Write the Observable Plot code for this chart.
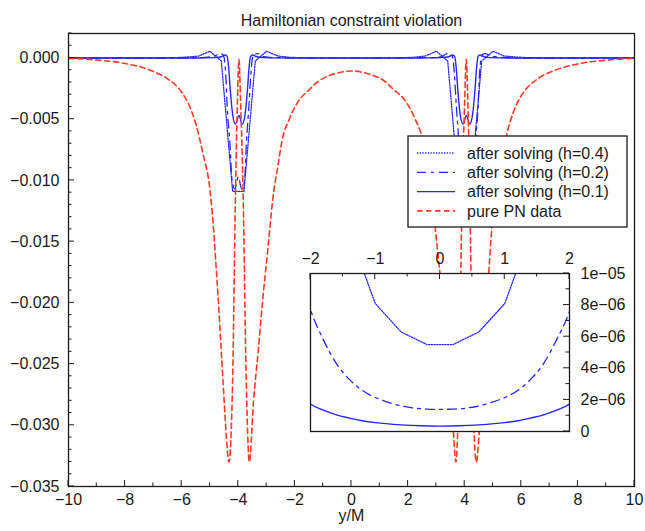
<!DOCTYPE html>
<html><head><meta charset="utf-8">
<script src="https://cdn.jsdelivr.net/npm/d3@7"></script>
<script src="https://cdn.jsdelivr.net/npm/@observablehq/plot@0.6"></script>
<style>
body{margin:0;background:#fff;}
#wrap{position:relative;width:645px;height:531px;overflow:hidden;background:#fff;}
</style>
</head><body><div id="wrap"></div>
<script>
// ---------- data ----------
const title = "Hamiltonian constraint violation";
const xLabel = "y/M";
const seriesNames = ["after solving (h=0.4)", "after solving (h=0.2)", "after solving (h=0.1)", "pure PN data"];

// h = 0.4 (dotted)
const h04X = [-10,-7,-6.2,-5.8,-5.4,-5,-4.6,-4.2,-3.8,-3.4,-3,-2.6,-2.2,-1.8,-1.4,-1,-0.6,-0.2,0.2,0.6,1,1.4,1.8,2.2,2.6,3,3.4,3.8,4.2,4.6,5,5.4,5.8,6.2,7,10];
const h04Y = [0,0.00001,0.00003,0.00008,0.00016,0.00055,-0.00025,-0.0109,-0.0109,-0.00025,0.00055,0.00016,0.00006,0.000022,0.0000126,0.0000081,0.0000063,0.0000055,0.0000055,0.0000063,0.0000081,0.0000126,0.000022,0.00006,0.00016,0.00055,-0.00025,-0.0109,-0.0109,-0.00025,0.00055,0.00016,0.00008,0.00003,0.00001,0];

// h = 0.2 (dash-dot)
const h02X = [-10,-6,-5.4,-5.0,-4.8,-4.65,-4.55,-4.5,-4.44,-4.39,-4.3,-4.22,-4.12,-4.0,-3.88,-3.78,-3.71,-3.63,-3.56,-3.5,-3.42,-3.3,-3.1,-2.8,-2.6,-2.4,-2.2,-2.0,-1.8,-1.6,-1.4,-1.2,-1.0,-0.8,-0.6,-0.4,-0.2,0,0.2,0.4,0.6,0.8,1.0,1.2,1.4,1.6,1.8,2.0,2.2,2.4,2.6,2.88,3.18,3.38,3.5,3.58,3.64,3.71,3.79,3.86,3.96,4.08,4.2,4.3,4.38,4.47,4.52,4.58,4.63,4.73,4.88,5.08,5.48,6,10];
const h02Y = [0,0,0.00003,0.0001,0.0002,0.00035,0.0003,0,-0.0015,-0.0041,-0.0068,-0.0100,-0.0107,-0.0097,-0.0107,-0.0100,-0.0068,-0.0041,-0.0015,0,0.0003,0.00035,0.0001,0.00003,0.000022,0.000015,0.0000105,0.0000077,0.0000058,0.0000043,0.0000033,0.0000026,0.00000215,0.00000185,0.00000162,0.00000148,0.00000142,0.0000014,0.00000142,0.00000148,0.00000162,0.00000185,0.00000215,0.0000026,0.0000033,0.0000043,0.0000058,0.0000076,0.0000105,0.000015,0.000022,0.00003,0.0001,0.00035,0.0003,0,-0.0015,-0.0041,-0.0068,-0.0100,-0.0107,-0.0097,-0.0107,-0.0100,-0.0068,-0.0041,-0.0015,0,0.0003,0.00035,0.0002,0.0001,0.00003,0,0];

// h = 0.1 (solid)
const h01X = [-10,-5.5,-4.8,-4.6,-4.45,-4.39,-4.34,-4.28,-4.2,-4.1,-3.98,-3.86,-3.76,-3.68,-3.62,-3.57,-3.5,-3.35,-3.1,-2.8,-2.5,-2.2,-2.0,-1.8,-1.6,-1.4,-1.2,-1.0,-0.6,-0.3,0,0.3,0.6,1.0,1.2,1.4,1.6,1.8,2.0,2.2,2.5,2.88,3.18,3.43,3.58,3.65,3.70,3.76,3.84,3.94,4.06,4.18,4.28,4.36,4.42,4.47,4.53,4.68,4.88,5.58,10];
const h01Y = [0,0,0.00003,0.0001,0.00025,0.0001,-0.0008,-0.0027,-0.0046,-0.0054,-0.0047,-0.0054,-0.0046,-0.0027,-0.0008,0.0001,0.00025,0.0001,0.00003,0.000012,0.000005,0.0000026,0.00000174,0.00000135,0.00000105,0.00000085,0.00000068,0.00000056,0.00000042,0.00000036,0.00000034,0.00000036,0.00000042,0.00000056,0.00000068,0.00000085,0.00000105,0.00000135,0.00000174,0.0000026,0.000005,0.000012,0.00003,0.0001,0.00025,0.0001,-0.0008,-0.0027,-0.0046,-0.0054,-0.0047,-0.0054,-0.0046,-0.0027,-0.0008,0.0001,0.00025,0.0001,0.00003,0,0];

// pure PN data (red dashed)
const pnX = [-10,-9,-8,-7,-6.5,-6,-5.75,-5.5,-5.25,-5,-4.9,-4.8,-4.7,-4.6,-4.5,-4.42,-4.33,-4.2,-4.1,-4.03,-3.975,-3.92,-3.83,-3.72,-3.61,-3.46,-3.3,-3.14,-2.95,-2.79,-2.6,-2.44,-2.2,-1.87,-1.5,-1.17,-0.6,0,
  0.6,1.17,1.5,1.9,2.25,2.5,2.66,2.86,3.03,3.22,3.38,3.54,3.69,3.80,3.91,4.00,4.055,4.11,4.18,4.28,4.41,4.50,4.58,4.68,4.78,4.88,4.98,5.08,5.33,5.58,5.83,6.08,6.58,7.08,8.08,9.05,10];
const pnY = [-0.00003,-0.00017,-0.00045,-0.0011,-0.0017,-0.0028,-0.0038,-0.0054,-0.0078,-0.0108,-0.0132,-0.0165,-0.0200,-0.0240,-0.0280,-0.0310,-0.0330,-0.0263,-0.0111,-0.0035,-0.0001,-0.0035,-0.0111,-0.0263,-0.0330,-0.0280,-0.0240,-0.0198,-0.0155,-0.0117,-0.0088,-0.0066,-0.0050,-0.0035,-0.0026,-0.0019,-0.0013,-0.00106,
  -0.0013,-0.0019,-0.0026,-0.0035,-0.0050,-0.0066,-0.0088,-0.0117,-0.0155,-0.0198,-0.0240,-0.0280,-0.0330,-0.0263,-0.0111,-0.0035,-0.0001,-0.0035,-0.0111,-0.0263,-0.0330,-0.0310,-0.0280,-0.0240,-0.0200,-0.0165,-0.0132,-0.0108,-0.0078,-0.0054,-0.0038,-0.0028,-0.0017,-0.0011,-0.00045,-0.00017,-0.00003];

// tick values
const xTicksMain = [-10,-8,-6,-4,-2,0,2,4,6,8,10];
const xMinorMain = d3.range(-10, 10.001, 1);
const yTicksMain = [0,-0.005,-0.01,-0.015,-0.02,-0.025,-0.03,-0.035];
const yMinorMain = d3.range(-35, 2.001, 1).map(v => v / 1000);
const xTicksInset = [-2,-1,0,1,2];
const xMinorInset = d3.range(-2, 2.001, 0.5);
const yTicksInset = [0,2e-6,4e-6,6e-6,8e-6,1e-5];
const yMinorInset = d3.range(0, 10.001, 1).map(v => v * 1e-6);

// ---------- styles ----------
const BLUE = "#2626ff";
const RED = "#ff3a24";
const INK = "#1a1a1a";
const FONT = "'Liberation Sans', Arial, Helvetica, sans-serif";
const styles = [
  {stroke: BLUE, strokeWidth: 1.3, strokeDasharray: "1.3,1.4", curve: "linear"},
  {stroke: BLUE, strokeWidth: 1.3, strokeDasharray: "9,5,3,5", curve: "monotone-x"},
  {stroke: BLUE, strokeWidth: 1.4, strokeDasharray: null, curve: "monotone-x"},
  {stroke: RED, strokeWidth: 1.6, strokeDasharray: "5.5,3.5", curve: "monotone-x"}
];
const rows = (xs, ys) => xs.map((x, i) => ({x, y: ys[i]}));
const seriesData = [rows(h04X, h04Y), rows(h02X, h02Y), rows(h01X, h01Y), rows(pnX, pnY)];

function lineMarks(which) {
  return which.map(i => Plot.line(seriesData[i], {x: "x", y: "y", clip: true, ...styles[i]}));
}

// ---------- main plot ----------
const main = Plot.plot({
  width: 645, height: 531,
  marginLeft: 68, marginRight: 11, marginTop: 33, marginBottom: 45,
  x: {domain: [-10, 10]},
  y: {domain: [-0.035, 0.002]},
  style: {fontFamily: FONT, fontSize: "16px", color: INK, background: "white"},
  marks: [
    ...lineMarks([0, 1, 2, 3]),
    Plot.frame({stroke: INK, strokeWidth: 1.3}),
    Plot.axisX({ticks: xTicksMain, tickSize: 0, tickPadding: 7, tickFormat: d3.format("d"), label: null, fontSize: 16}),
    Plot.axisY({ticks: yTicksMain, tickSize: 0, tickPadding: 9, tickFormat: d3.format(".3f"), label: null, fontSize: 16}),
    Plot.text([xLabel], {text: d => d, frameAnchor: "bottom", dy: 34, fontSize: 16}),
    Plot.text([title], {text: d => d, frameAnchor: "top", dy: -19, fontSize: 16})
  ]
});
main.style.position = "absolute"; main.style.left = "0px"; main.style.top = "0px";
document.getElementById("wrap").appendChild(main);

// inward ticks for the main plot from its own scales, plus the legend box
{
  const sx = main.scale("x"), sy = main.scale("y");
  const left = sx.range[0], bottom = sy.range[0];
  const g = d3.select(main).append("g").attr("stroke", INK).attr("stroke-width", 1);
  xMinorMain.forEach(v => {
    const len = xTicksMain.includes(v) ? 6 : 3.5, px = sx.apply(v);
    g.append("line").attr("x1", px).attr("x2", px).attr("y1", bottom).attr("y2", bottom - len);
  });
  yMinorMain.forEach(v => {
    const major = yTicksMain.some(t => Math.abs(t - v) < 1e-9);
    const len = major ? 6 : 3.5, py = sy.apply(v);
    g.append("line").attr("x1", left).attr("x2", left + len).attr("y1", py).attr("y2", py);
  });

  const L = d3.select(main).append("g")
    .attr("font-family", FONT).attr("font-size", 16).attr("fill", INK).attr("text-anchor", "start");
  L.append("rect").attr("x", 408).attr("y", 136).attr("width", 219).attr("height", 91)
    .attr("fill", "white").attr("stroke", INK).attr("stroke-width", 1.3);
  seriesNames.forEach((name, i) => {
    const yy = 153 + i * 19.3;
    const st = styles[i];
    L.append("line").attr("x1", 417).attr("x2", 455).attr("y1", yy).attr("y2", yy)
      .attr("stroke", st.stroke).attr("stroke-width", st.strokeWidth)
      .attr("stroke-dasharray", st.strokeDasharray);
    L.append("text").attr("x", 467).attr("y", yy).attr("dy", "0.36em")
      .attr("text-anchor", "start").attr("stroke", "none").text(name);
  });
}

// ---------- inset plot ----------
const fmtE = d => d === 0 ? "0" : d3.format(".0e")(d).replace(/e([−-])(\d)$/, "e−0$2");
const inset = Plot.plot({
  width: 345, height: 196,
  marginLeft: 10, marginRight: 76, marginTop: 33, marginBottom: 5,
  x: {domain: [-2, 2]},
  y: {domain: [0, 1e-5]},
  style: {fontFamily: FONT, fontSize: "16px", color: INK, background: "transparent", overflow: "visible"},
  marks: [
    Plot.frame({fill: "white"}),
    ...lineMarks([0, 1, 2]),
    Plot.frame({stroke: INK, strokeWidth: 1.3}),
    Plot.axisX({anchor: "top", ticks: xTicksInset, tickSize: 0, tickPadding: 10, tickFormat: d3.format("d"), label: null, fontSize: 16}),
    Plot.axisY({anchor: "right", ticks: yTicksInset, tickSize: 0, tickPadding: 11, tickFormat: fmtE, label: null, fontSize: 16})
  ]
});
inset.style.position = "absolute"; inset.style.left = "300px"; inset.style.top = "240px";
document.getElementById("wrap").appendChild(inset);
{
  const sx = inset.scale("x"), sy = inset.scale("y");
  const top = sy.range[1], right = sx.range[1];
  const g = d3.select(inset).append("g").attr("stroke", INK).attr("stroke-width", 1);
  xMinorInset.forEach(v => {
    const len = xTicksInset.includes(v) ? 6 : 3.5, px = sx.apply(v);
    g.append("line").attr("x1", px).attr("x2", px).attr("y1", top).attr("y2", top + len);
  });
  yMinorInset.forEach(v => {
    const major = yTicksInset.some(t => Math.abs(t - v) < 1e-12);
    const len = major ? 6 : 3.5, py = sy.apply(v);
    g.append("line").attr("x1", right).attr("x2", right - len).attr("y1", py).attr("y2", py);
  });
}
</script>
</body></html>
